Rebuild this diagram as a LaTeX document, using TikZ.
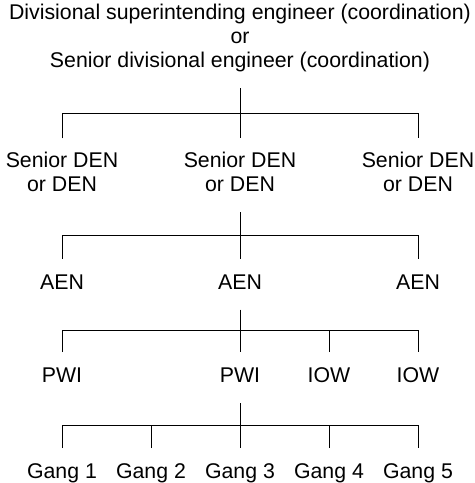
\documentclass[tikz,border=0pt]{standalone}
\usepackage{fontspec}
\setmainfont{Liberation Sans}
\usetikzlibrary{calc}

\begin{document}
\begin{tikzpicture}[x=0.5pt, y=-0.5pt, line width=0.5pt,
    post/.style={inner sep=0pt, outer ysep=6.75pt, align=center,
        font=\fontsize{10.65}{12}\selectfont,
        execute at begin node=\strut, execute at end node=\strut}]
    \useasboundingbox (0,0) rectangle (475,483);

    % Top post
    \node[post] (top) at (240, 39.2) {Divisional superintending engineer (coordination)\\or\\Senior divisional engineer (coordination)};

    % Divisional engineers
    \node[post] (den1) at (62, 175.2) {Senior DEN\\or DEN};
    \node[post] (den2) at (240, 175.2) {Senior DEN\\or DEN};
    \node[post] (den3) at (418, 175.2) {Senior DEN\\or DEN};

    % Assistant engineers
    \node[post] (aen1) at (62, 284.2) {AEN};
    \node[post] (aen2) at (240, 284.2) {AEN};
    \node[post] (aen3) at (418, 284.2) {AEN};

    % Inspectors
    \node[post] (pwi1) at (62, 377.7) {PWI};
    \node[post] (pwi2) at (240, 377.7) {PWI};
    \node[post] (iow1) at (329, 377.7) {IOW};
    \node[post] (iow2) at (418, 377.7) {IOW};

    % Gangs
    \foreach \i/\x in {1/62, 2/151, 3/240, 4/329, 5/418}
        \node[post] (gang\i) at (\x, 473.5) {Gang \i};

    % Bars
    \coordinate (bar1) at ($(top.south)!0.5!(den2.north)$);
    \coordinate (bar2) at ($(den2.south)!0.5!(aen2.north)$);
    \coordinate (bar3) at ($(aen2.south)!0.5!(pwi2.north)$);
    \coordinate (bar4) at ($(pwi2.south)!0.5!(gang3.north)$);

    % Connections
    \draw (top.south) -- (den2.north);
    \draw (den1.north) |- (bar1) -| (den3.north);
    \draw (den2.south) -- (aen2.north);
    \draw (aen1.north) |- (bar2) -| (aen3.north);
    \draw (aen2.south) -- (pwi2.north);
    \draw (pwi1.north) |- (bar3) -| (iow2.north);
    \draw (iow1.north) -- (iow1.north |- bar3);
    \draw (pwi2.south) -- (gang3.north);
    \draw (gang1.north) |- (bar4) -| (gang5.north);
    \draw (gang2.north) -- (gang2.north |- bar4);
    \draw (gang4.north) -- (gang4.north |- bar4);
\end{tikzpicture}
\end{document}
